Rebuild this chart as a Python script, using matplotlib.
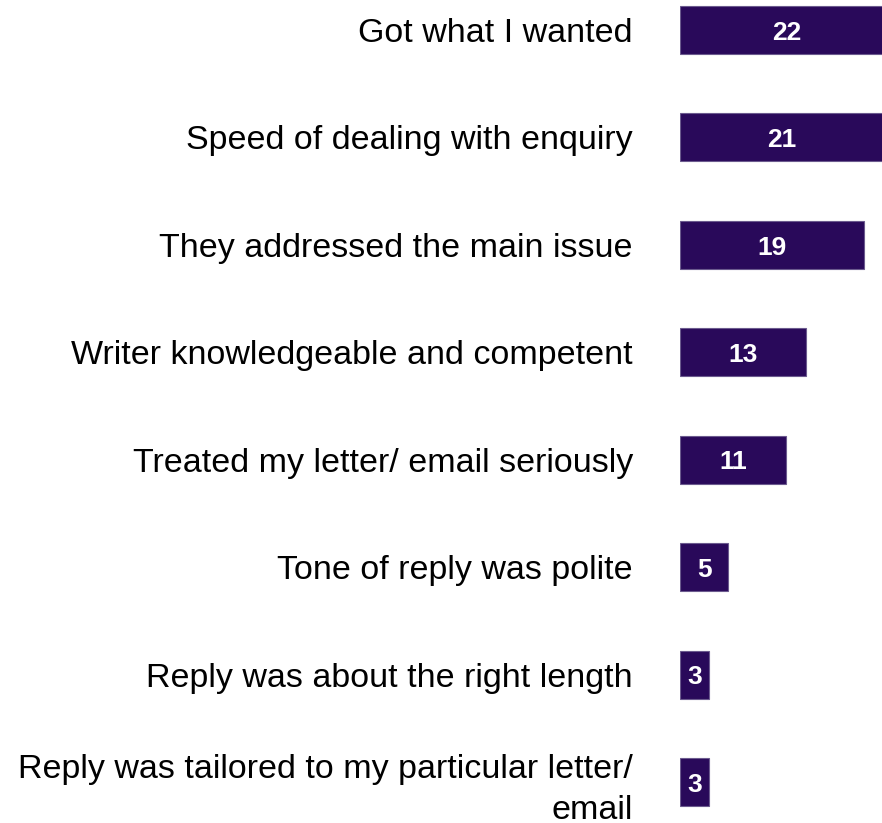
import matplotlib.pyplot as plt

plt.rcParams["font.family"] = ["Liberation Sans", "DejaVu Sans"]

BAR_COLOR = "#29095A"
EDGE_COLOR = "#6B5A8E"

categories = [
    "Got what I wanted",
    "Speed of dealing with enquiry",
    "They addressed the main issue",
    "Writer knowledgeable and competent",
    "Treated my letter/ email seriously",
    "Tone of reply was polite",
    "Reply was about the right length",
    "Reply was tailored to my particular letter/\nemail",
]
values = [22, 21, 19, 13, 11, 5, 3, 3]


def main():
    fig = plt.figure(figsize=(8.82, 8.23), dpi=100)
    ax = fig.add_axes([680 / 882, 0, 202 / 882, 1])

    positions = list(range(len(categories)))

    ax.barh(
        positions,
        values,
        height=0.447,
        color=BAR_COLOR,
        edgecolor=EDGE_COLOR,
        linewidth=0.8,
    )

    for pos, val in zip(positions, values):
        ax.annotate(
            str(val),
            xy=(val / 2, pos),
            xytext=(0, -2),
            textcoords="offset points",
            ha="center",
            va="center",
            color="white",
            fontsize=19,
            fontweight="bold",
            annotation_clip=False,
        )

    ax.set_xlim(0, 202 / 9.67)
    ax.set_ylim(7 + 41 / 107.4, -30 / 107.4)

    ax.set_yticks(positions)
    ax.set_yticklabels(categories, fontsize=24.5, ha="right")
    for label in ax.get_yticklabels():
        label.set_linespacing(1.4)
    ax.tick_params(axis="y", length=0, pad=34)
    ax.set_xticks([])

    for spine in ax.spines.values():
        spine.set_visible(False)

    fig.savefig("out.png", dpi=100)
    plt.close(fig)


if __name__ == "__main__":
    main()
